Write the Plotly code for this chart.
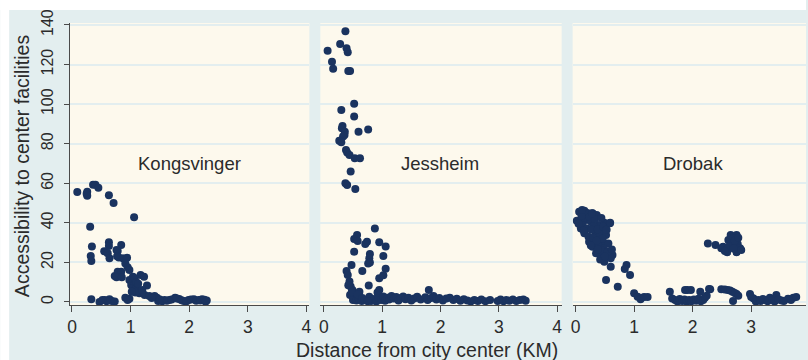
import plotly.graph_objects as go

# ---------------- data ----------------
panel_names = ["Kongsvinger", "Jessheim", "Drobak"]
x_ticks = [0, 1, 2, 3, 4]
y_ticks = [0, 20, 40, 60, 80, 100, 120, 140]

kong_x = [0.09, 0.26, 0.26, 0.25, 0.36, 0.40, 0.45, 0.63, 0.71, 1.06,
          0.31, 0.34, 0.32, 0.33, 0.63, 0.63, 0.55, 0.61, 0.64, 0.84,
          0.76, 0.78, 0.77, 0.80, 0.87, 0.94, 0.91, 0.95, 0.98, 0.73,
          0.78, 0.84, 0.76, 0.85, 0.98, 1.04, 1.07, 1.17, 1.23, 1.01,
          1.06, 1.04, 1.09, 1.28, 1.15, 1.24, 1.32, 1.41, 1.45, 1.47,
          1.58, 1.66, 1.76, 1.83, 1.91, 1.99, 2.08, 2.16, 2.22, 2.30,
          0.33, 0.47, 0.56, 0.64, 0.68, 0.73, 0.91, 0.98, 1.10, 1.12,
          1.08, 1.13, 1.02, 1.20, 1.36, 1.50, 1.54, 1.62, 1.70, 1.79,
          1.87, 1.95, 2.03, 2.12, 2.19, 2.26, 2.28, 0.59, 0.52, 0.95]
kong_y = [55.6, 55.7, 53.7, 54.7, 59.3, 59.3, 57.8, 53.9, 50.0, 42.8,
          38.0, 28.0, 23.2, 20.7, 30.2, 28.3, 25.6, 24.6, 22.1, 28.8,
          26.3, 25.8, 23.1, 22.5, 22.1, 22.4, 19.5, 17.5, 16.2, 13.1,
          15.3, 15.3, 12.5, 12.5, 11.1, 12.8, 12.0, 13.6, 12.8, 8.6,
          8.6, 6.9, 6.9, 8.3, 4.4, 3.5, 3.0, 3.0, 2.2, 0.5,
          1.0, 1.0, 2.2, 1.5, 0.5, 1.0, 1.4, 1.0, 1.4, 0.7,
          1.4, 0.0, 1.0, 1.4, 0.5, 0.3, 2.2, 1.6, 10.0, 5.5,
          4.8, 9.2, 5.2, 6.0, 2.0, 1.2, 0.4, 0.6, 1.3, 1.8,
          0.9, 0.3, 1.2, 0.6, 0.8, 1.1, 0.2, 0.4, 1.0, 1.0]

jess_x = [0.37, 0.28, 0.065, 0.39, 0.41, 0.14, 0.16, 0.42, 0.45, 0.52,
          0.30, 0.52, 0.32, 0.31, 0.36, 0.355, 0.33, 0.595, 0.76, 0.265,
          0.30, 0.38, 0.40, 0.44, 0.53, 0.62, 0.46, 0.37, 0.40, 0.54,
          0.875, 0.57, 0.52, 0.58, 0.74, 0.71, 0.95, 1.06, 0.52, 0.79,
          0.78, 1.02, 0.79, 0.76, 0.475, 1.06, 0.39, 0.66, 0.41, 0.95,
          1.02, 0.44, 0.46, 0.77, 0.49, 0.52, 0.54, 0.61, 0.61, 0.95,
          0.92, 0.78, 0.81, 1.80,
          0.86, 0.90, 0.94, 0.98, 1.02, 1.05, 1.09, 1.12, 1.16, 1.20,
          1.24, 1.28, 1.32, 1.36, 1.40, 1.45, 1.50, 1.55, 1.60, 1.66,
          1.74, 1.78, 1.84, 1.88, 1.93, 1.98, 2.04, 2.10, 2.16, 2.22,
          2.28, 2.34, 2.40, 2.46, 2.52, 2.58, 2.64, 2.70, 2.77, 2.85,
          2.98, 3.03, 3.08, 3.13, 3.18, 3.24, 3.30, 3.36, 3.42, 3.46,
          0.45, 0.50, 0.56, 0.60, 0.65, 0.42, 0.48, 0.58, 0.66, 0.70, 0.75]
jess_y = [136.8, 130.4, 127.0, 128.2, 126.2, 121.4, 117.9, 116.7, 116.7, 100.2,
          97.0, 93.8, 88.9, 87.8, 86.1, 84.4, 83.6, 86.1, 87.2, 81.5,
          80.7, 76.8, 75.5, 74.3, 72.6, 72.6, 65.9, 60.0, 59.1, 57.1,
          37.1, 33.9, 31.8, 30.8, 30.5, 29.3, 30.2, 28.0, 25.4, 24.3,
          22.1, 23.2, 20.0, 19.4, 18.7, 16.8, 15.7, 15.7, 13.6, 12.0,
          13.5, 10.3, 7.8, 8.3, 6.1, 4.4, 2.7, 5.2, 2.7, 6.1,
          4.8, 2.7, 0.5, 6.1,
          1.5, 0.3, 2.0, 1.0, 2.8, 0.6, 2.2, 1.2, 3.0, 1.8,
          2.5, 0.8, 2.0, 2.8, 1.4, 2.2, 0.8, 1.8, 2.6, 1.2,
          2.4, 1.0, 2.0, 3.0, 1.2, 2.0, 0.8, 1.8, 2.2, 1.0,
          1.6, 0.6, 1.4, 0.8, 0.3, 1.0, 0.5, 1.2, 0.4, 1.0,
          0.5, 1.2, 0.4, 1.0, 0.6, 1.3, 0.5, 1.0, 1.2, 0.6,
          3.5, 1.0, 0.8, 1.5, 0.5, 8.5, 5.0, 3.8, 2.0, 1.0, 0.4]

drob_x = [0.06, 0.15, 0.20, 0.29, 0.36, 0.02, 0.09, 0.17, 0.26, 0.40,
          0.49, 0.585, 0.12, 0.09, 0.20, 0.31, 0.15, 0.34, 0.45, 0.52,
          0.40, 0.23, 0.31, 0.42, 0.51, 0.56, 0.29, 0.40, 0.48, 0.35,
          0.43, 0.63, 0.60, 0.49, 0.60, 0.87, 0.84, 0.93, 0.52, 0.72,
          1.00, 1.06, 1.11, 1.17, 1.23,
          0.10, 0.24, 0.33, 0.44, 0.05, 0.14, 0.27, 0.38, 0.47, 0.53,
          0.22, 0.30, 0.46, 0.36, 0.26, 0.45, 0.38, 0.55, 0.62, 0.42,
          0.50, 0.11, 0.28, 0.59,
          1.61, 1.65, 1.91, 1.97, 2.13, 2.30, 2.49, 2.60, 2.68, 2.75,
          2.69, 2.98, 3.04, 3.12, 3.24, 3.32, 3.43, 3.52, 3.63, 3.72,
          1.87, 2.28,
          1.70, 1.74, 1.78, 1.82, 1.86, 1.90, 1.94, 1.98, 2.02, 2.06,
          2.10, 2.14, 2.18, 2.21, 2.24,
          3.00, 3.08, 3.16, 3.20, 3.28, 3.36, 3.40, 3.47, 3.56, 3.68, 3.77,
          2.55, 2.64, 2.72, 2.78,
          2.26, 2.39, 2.52, 2.49, 2.58, 2.61, 2.65, 2.75, 2.69, 2.66,
          2.77, 2.81, 2.75, 2.59, 2.83, 2.62, 2.70, 2.55, 2.72, 2.78]
drob_y = [45.6, 46.1, 45.0, 44.8, 44.0, 41.1, 41.1, 41.4, 40.7, 38.9,
          40.1, 39.8, 38.9, 37.2, 37.2, 38.5, 34.7, 35.5, 35.5, 33.9,
          33.0, 30.5, 29.6, 30.5, 29.6, 29.6, 27.9, 27.9, 27.0, 24.6,
          23.8, 23.8, 22.1, 20.4, 17.8, 18.7, 16.7, 13.6, 11.1, 7.7,
          4.4, 2.7, 1.4, 2.5, 2.5,
          43.5, 43.0, 42.0, 42.5, 39.5, 36.0, 36.5, 36.8, 38.0, 36.5,
          33.0, 32.5, 32.0, 31.0, 28.5, 26.0, 26.5, 25.5, 26.5, 21.5,
          23.0, 46.5, 44.8, 40.1,
          5.2, 1.8, 6.1, 6.1, 5.2, 6.4, 6.4, 6.1, 5.2, 4.0,
          0.5, 4.0, 1.8, 1.0, 1.0, 2.2, 3.5, 0.7, 1.7, 2.2,
          6.1, 6.6,
          1.0, 0.3, 1.5, 0.5, 1.2, 0.2, 1.0, 0.4, 1.3, 0.6,
          1.6, 0.4, 1.0, 2.2, 3.2,
          2.5, 0.3, 0.5, 1.5, 0.4, 1.0, 0.3, 1.2, 0.5, 1.0, 2.5,
          6.3, 5.8, 4.6, 3.2,
          29.6, 28.8, 27.9, 27.1, 26.3, 31.3, 33.9, 33.9, 32.2, 29.6,
          29.3, 27.1, 25.1, 25.1, 26.3, 28.0, 27.0, 25.8, 31.0, 32.5]

# ---------------- layout constants ----------------
W, H = 808, 360
ML, MR, MT, MB = 70, 0, 23, 55
PW = W - ML - MR
PH = H - MT - MB

def px_x(p):
    return (p - ML) / PW

def px_y(p):
    return (H - MB - p) / PH

BG = "#e3eeef"
PLOT_BG = "#fdf9ed"
GRID = "#e3eeef"
MARK = "#1a335f"
AX = "#4a4a4a"
TXT = "#2b2b2b"
FONT = "Liberation Sans, Arial, sans-serif"
XTICK_SIZE = 17.5
YTICK_SIZE = 16

panels = [
    (kong_x, kong_y, (70, 310), [-0.034, 4.051]),
    (jess_x, jess_y, (321, 563), [-0.06, 4.077]),
    (drob_x, drob_y, (574, 808), [-0.051, 3.937]),
]

fig = go.Figure()
for i, (xs, ys, (p0, p1), rng) in enumerate(panels):
    xa = "x" if i == 0 else f"x{i+1}"
    fig.add_trace(go.Scatter(
        x=xs, y=ys, mode="markers", xaxis=xa, yaxis="y",
        marker=dict(color=MARK, size=8, line=dict(width=0)),
        showlegend=False, hoverinfo="skip"))
    key = "xaxis" if i == 0 else f"xaxis{i+1}"
    fig.layout[key] = dict(
        domain=[max(0, px_x(p0)), min(1, px_x(p1))], range=rng,
        anchor="y", tickvals=x_ticks, ticks="outside", ticklen=6,
        tickwidth=1, tickcolor=AX, showline=True, linecolor=AX, linewidth=1,
        showgrid=False, zeroline=False,
        tickfont=dict(size=XTICK_SIZE, color=TXT, family=FONT))
    fig.add_annotation(x=2, y=70, xref=xa, yref="y", text=panel_names[i],
                       showarrow=False, xanchor="center", yanchor="middle",
                       font=dict(size=18.5, color=TXT, family=FONT))

fig.update_layout(
    yaxis=dict(domain=[0, 1], range=[-1.52, 141.0], tickvals=y_ticks,
               ticks="outside", ticklen=5, tickwidth=1, tickcolor=AX,
               showline=True, linecolor=AX, linewidth=1, anchor="x",
               showgrid=True, gridcolor=GRID, gridwidth=1.5, zeroline=False,
               tickangle=-90, ticklabelstandoff=5,
               tickfont=dict(size=YTICK_SIZE, color=TXT, family=FONT)),
    width=W, height=H,
    margin=dict(l=ML, r=MR, t=MT, b=MB, pad=0),
    paper_bgcolor=BG, plot_bgcolor=PLOT_BG,
    font=dict(family=FONT, color=TXT),
)

# axis titles
fig.add_annotation(x=px_x(22), y=px_y(166), xref="paper", yref="paper",
                   xanchor="center", yanchor="middle",
                   text="Accessibility to center facilities", textangle=-90,
                   showarrow=False, font=dict(size=19.5, color=TXT, family=FONT))
fig.add_annotation(x=px_x(428), y=px_y(350), xref="paper", yref="paper",
                   xanchor="center", yanchor="middle",
                   text="Distance from city center (KM)",
                   showarrow=False, font=dict(size=19.5, color=TXT, family=FONT))

# white strips at top and left of the graph region
fig.add_shape(type="rect", xref="paper", yref="paper",
              x0=px_x(0), x1=px_x(W), y0=px_y(10), y1=px_y(0),
              fillcolor="white", line=dict(width=0), layer="above")
fig.add_shape(type="rect", xref="paper", yref="paper",
              x0=px_x(0), x1=px_x(9), y0=px_y(H), y1=px_y(0),
              fillcolor="white", line=dict(width=0), layer="above")

fig.write_html("out.html")
